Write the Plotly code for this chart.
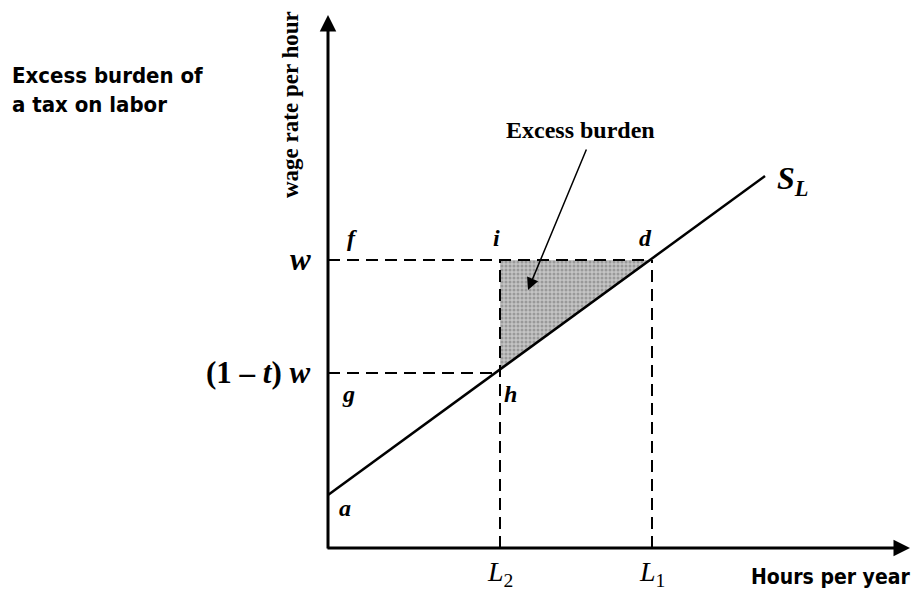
import plotly.graph_objects as go

# Values (pixel-like units, origin at axes corner)
L2 = 172          # reduced hours
L1 = 324          # original hours
w = 288           # gross wage
w_net = 175       # (1 - t) w
supply_x = [0, 437]
supply_y = [53, 372]
x_axis_end = 582
y_axis_end = 533

def supply_at(x):
    return supply_y[0] + (supply_y[1] - supply_y[0]) * (x - supply_x[0]) / (supply_x[1] - supply_x[0])

fig = go.Figure()

# shaded excess burden triangle
fig.add_trace(go.Scatter(
    x=[L2, L1, L2, L2], y=[w, w, supply_at(L2), w],
    mode="lines", fill="toself", fillcolor="#b8b8b8",
    fillpattern=dict(shape=".", fgcolor="#6e6e6e", bgcolor="#c4c4c4", size=4, solidity=0.45),
    line=dict(width=0), hoverinfo="skip", showlegend=False))

dash = "12px,7px"
# dashed guides
fig.add_trace(go.Scatter(x=[0, L1], y=[w, w], mode="lines",
                         line=dict(color="black", width=2, dash=dash), showlegend=False))
fig.add_trace(go.Scatter(x=[0, L2], y=[w_net, w_net], mode="lines",
                         line=dict(color="black", width=2, dash=dash), showlegend=False))
fig.add_trace(go.Scatter(x=[L2, L2], y=[0, w], mode="lines",
                         line=dict(color="black", width=2, dash=dash), showlegend=False))
fig.add_trace(go.Scatter(x=[L1, L1], y=[0, w], mode="lines",
                         line=dict(color="black", width=2, dash=dash), showlegend=False))

# supply curve
fig.add_trace(go.Scatter(x=supply_x, y=supply_y, mode="lines",
                         line=dict(color="black", width=2.5), showlegend=False))

annotations = []
# axes with arrows
annotations.append(dict(x=0, y=y_axis_end, ax=0, ay=-2, xref="x", yref="y", axref="x", ayref="y",
                        showarrow=True, arrowhead=2, arrowsize=1.1, arrowwidth=3, arrowcolor="black", text=""))
annotations.append(dict(x=x_axis_end, y=0, ax=-2, ay=0, xref="x", yref="y", axref="x", ayref="y",
                        showarrow=True, arrowhead=2, arrowsize=1.1, arrowwidth=3, arrowcolor="black", text=""))
# pointer arrow
annotations.append(dict(x=200, y=258, ax=259, ay=400, xref="x", yref="y", axref="x", ayref="y",
                        showarrow=True, arrowhead=2, arrowsize=1.6, arrowwidth=1.5, arrowcolor="black", text=""))

serif = "Liberation Serif, Times New Roman, serif"
narrow = "DejaVu Sans Condensed, Liberation Sans Narrow, Roboto Condensed, Arial Narrow, sans-serif"

def lab(x, y, text, size, family=serif, **kw):
    d = dict(x=x, y=y, xref="x", yref="y", text=text, showarrow=False,
             font=dict(family=family, size=size, color="black"))
    d.update(kw)
    annotations.append(d)

lab(24, 310, "<b><i>f</i></b>", 24)
lab(168, 310, "<b><i>i</i></b>", 24)
lab(317, 310, "<b><i>d</i></b>", 24)
lab(20, 154, "<b><i>g</i></b>", 24)
lab(182, 154, "<b><i>h</i></b>", 24)
lab(17, 40, "<b><i>a</i></b>", 24)
lab(-15, 289, "<b><i>w</i></b>", 31, xanchor="right")
lab(-15, 176, "<b>(1 – <i>t</i>) <i>w</i></b>", 31, xanchor="right")
lab(464, 368, "<b><i>S</i></b><sub><b><i>L</i></b></sub>", 32)
lab(252, 418, "<b>Excess burden</b>", 24)
lab(L2, -25, "<i>L</i><sub>2</sub>", 28)
lab(L1, -25, "<i>L</i><sub>1</sub>", 28)
lab(585, -29, "<b>Hours per year</b>", 21, family=narrow, xanchor="right")
lab(-38, 443, "<b>wage rate per hour</b>", 23, family=serif, textangle=-90)
lab(-318, 458, "<b>Excess burden of<br>a tax on labor</b>", 22, family=narrow, xanchor="left", align="left")

fig.update_layout(
    width=913, height=592,
    margin=dict(l=0, r=0, t=0, b=0),
    paper_bgcolor="white", plot_bgcolor="white",
    xaxis=dict(range=[-328, 585], visible=False, fixedrange=True),
    yaxis=dict(range=[-44, 548], visible=False, fixedrange=True),
    annotations=annotations,
    showlegend=False,
)

fig.write_html("out.html", config={"displayModeBar": False},
               post_script="document.body.style.margin='0';document.body.style.overflow='hidden';")
